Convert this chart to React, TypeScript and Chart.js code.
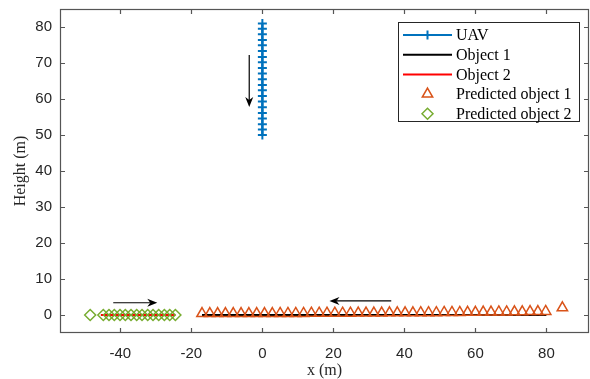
import React, { useEffect, useRef } from 'react';
import { Chart, registerables } from 'chart.js';
import { drawPoint } from 'chart.js/helpers';

Chart.register(...registerables);

// ---------------- data ----------------
const uavX = [0, 0, 0, 0, 0, 0, 0, 0, 0, 0, 0, 0, 0, 0, 0, 0, 0, 0, 0, 0, 0];
const uavY = [81, 79.5, 78, 76.4, 74.9, 73.3, 71.7, 70.2, 68.6, 67.1, 65.5, 63.9, 62.4, 60.8, 59.3, 57.7, 56.1, 54.6, 53, 51.5, 50];

const obj1X = [80, -17];
const obj1Y = [0, 0];

const obj2X = [-45.5, -24.5];
const obj2Y = [0, 0];

const pred1X = [-17, -14.8, -12.6, -10.4, -8.2, -6, -3.8, -1.6, 0.6, 2.8, 5, 7.2, 9.4, 11.6, 13.8, 16, 18.2, 20.4, 22.6, 24.8, 27, 29.2, 31.4, 33.6, 35.8, 38, 40.2, 42.4, 44.6, 46.8, 49, 51.2, 53.4, 55.6, 57.8, 60, 62.2, 64.4, 66.6, 68.8, 71, 73.2, 75.4, 77.6, 79.8, 84.5];
const pred1Y = [0.4, 0.4, 0.4, 0.4, 0.4, 0.4, 0.4, 0.4, 0.4, 0.4, 0.45, 0.45, 0.45, 0.45, 0.5, 0.5, 0.5, 0.5, 0.5, 0.5, 0.55, 0.55, 0.55, 0.55, 0.6, 0.6, 0.6, 0.6, 0.65, 0.65, 0.65, 0.7, 0.7, 0.7, 0.75, 0.75, 0.8, 0.8, 0.85, 0.85, 0.9, 0.9, 0.95, 0.95, 1.0, 2.0];

const pred2X = [-48.5, -44.8, -43.2, -41.7, -40.1, -38.6, -37, -35.4, -33.9, -32.3, -30.8, -29.2, -27.6, -26.1, -24.5];
const pred2Y = [0, 0, 0, 0, 0, 0, 0, 0, 0, 0, 0, 0, 0, 0, 0];

const xTicks = [-40, -20, 0, 20, 40, 60, 80];
const yTicks = [0, 10, 20, 30, 40, 50, 60, 70, 80];

// annotation arrows (data units): start -> end
const arrowX0 = [-3.7, -42, 36.3];
const arrowY0 = [72.2, 3.4, 3.9];
const arrowX1 = [-3.7, -29.6, 18.9];
const arrowY1 = [57.8, 3.4, 3.9];

const seriesLabels = ['UAV', 'Object 1', 'Object 2', 'Predicted object 1', 'Predicted object 2'];

const BLUE = '#0072BD';
const ORANGE = '#D95319';
const GREEN = '#77AC30';
const AXIS = '#262626';

const toPts = (xs: number[], ys: number[]) => xs.map((x, i) => ({ x, y: ys[i] }));
const zeroPad = () => ({ left: 0, right: 0, top: 0, bottom: 0 });

const boxPlugin = {
  id: 'matlabBox',
  afterDatasetsDraw(chart: any) {
    const { ctx, chartArea: a, scales } = chart;
    const xs = scales.x;
    const ys = scales.y;
    ctx.save();
    ctx.strokeStyle = '#555';
    ctx.lineWidth = 1.2;
    ctx.strokeRect(a.left + 0.5, a.top + 0.5, a.right - a.left - 1, a.bottom - a.top - 1);
    const tl = 5;
    ctx.beginPath();
    xTicks.forEach((v) => {
      const px = Math.round(xs.getPixelForValue(v)) + 0.5;
      ctx.moveTo(px, a.bottom);
      ctx.lineTo(px, a.bottom - tl);
      ctx.moveTo(px, a.top);
      ctx.lineTo(px, a.top + tl);
    });
    yTicks.forEach((v) => {
      const py = Math.round(ys.getPixelForValue(v)) + 0.5;
      ctx.moveTo(a.left, py);
      ctx.lineTo(a.left + tl, py);
      ctx.moveTo(a.right, py);
      ctx.lineTo(a.right - tl, py);
    });
    ctx.stroke();

    // arrows
    ctx.strokeStyle = '#000';
    ctx.fillStyle = '#000';
    ctx.lineWidth = 1.2;
    for (let i = 0; i < arrowX0.length; i++) {
      const x0 = xs.getPixelForValue(arrowX0[i]);
      const y0 = ys.getPixelForValue(arrowY0[i]);
      const x1 = xs.getPixelForValue(arrowX1[i]);
      const y1 = ys.getPixelForValue(arrowY1[i]);
      const ang = Math.atan2(y1 - y0, x1 - x0);
      const L = 10;
      const W = 4;
      const back = 7;
      ctx.beginPath();
      ctx.moveTo(x0, y0);
      ctx.lineTo(x1 - Math.cos(ang) * back, y1 - Math.sin(ang) * back);
      ctx.stroke();
      const bx = x1 - Math.cos(ang) * L;
      const by = y1 - Math.sin(ang) * L;
      const nx = -Math.sin(ang);
      const ny = Math.cos(ang);
      ctx.beginPath();
      ctx.moveTo(x1, y1);
      ctx.lineTo(bx + nx * W, by + ny * W);
      ctx.lineTo(x1 - Math.cos(ang) * back, y1 - Math.sin(ang) * back);
      ctx.lineTo(bx - nx * W, by - ny * W);
      ctx.closePath();
      ctx.fill();
    }
    ctx.restore();
  },
  afterDraw(chart: any) {
    const { ctx, chartArea: a } = chart;
    const ds = chart.data.datasets;
    const right = a.right - 10;
    const left = right - 181;
    const top = a.top + 13;
    const rowH = 19.7;
    const h = 99;
    ctx.save();
    ctx.fillStyle = '#fff';
    ctx.fillRect(left, top, right - left, h);
    ctx.strokeStyle = '#262626';
    ctx.lineWidth = 1;
    ctx.strokeRect(Math.round(left) + 0.5, Math.round(top) + 0.5, right - left, h);
    ctx.font = '16px "Liberation Serif"';
    ctx.textBaseline = 'middle';
    ctx.textAlign = 'left';
    seriesLabels.forEach((label, i) => {
      const d = ds.find((q: any) => q.label === label);
      const cy = top + 13 + i * rowH;
      const lx0 = left + 5;
      const lx1 = left + 54;
      const mx = (lx0 + lx1) / 2;
      if (d.showLine !== false) {
        ctx.strokeStyle = d.borderColor;
        ctx.lineWidth = d.borderWidth;
        ctx.beginPath();
        ctx.moveTo(lx0, cy);
        ctx.lineTo(lx1, cy);
        ctx.stroke();
      }
      if (d.pointRadius > 0) {
        ctx.strokeStyle = d.pointBorderColor;
        ctx.fillStyle = 'rgba(0,0,0,0)';
        ctx.lineWidth = d.pointBorderWidth;
        drawPoint(ctx, { pointStyle: d.pointStyle, radius: d.pointRadius, rotation: 0, borderWidth: d.pointBorderWidth }, mx, cy);
      }
      ctx.fillStyle = '#000';
      ctx.fillText(label, left + 58, cy + 1);
    });
    ctx.restore();
  },
};

export default function App() {
  const ref = useRef<HTMLCanvasElement | null>(null);

  useEffect(() => {
    document.body.style.margin = '0';
    const canvas = ref.current;
    if (!canvas) return;
    const tickFont = { family: '"Liberation Sans", Arial, sans-serif', size: 15 };
    const titleFont = { family: '"Liberation Serif", "Times New Roman", serif', size: 16, lineHeight: 1 };
    const chart = new Chart(canvas, {
      type: 'scatter',
      data: {
        datasets: [
          {
            label: 'UAV',
            data: toPts(uavX, uavY),
            showLine: true,
            borderColor: BLUE,
            borderWidth: 2,
            pointStyle: 'cross',
            pointRadius: 4.5,
            pointBorderWidth: 2,
            pointBorderColor: BLUE,
            pointBackgroundColor: BLUE,
            order: 4,
          },
          {
            label: 'Object 1',
            data: toPts(obj1X, obj1Y),
            showLine: true,
            borderColor: '#000000',
            borderWidth: 2,
            pointRadius: 0,
            order: 3,
          },
          {
            label: 'Object 2',
            data: toPts(obj2X, obj2Y),
            showLine: true,
            borderColor: '#FF0000',
            borderWidth: 2,
            pointRadius: 0,
            order: 2,
          },
          {
            label: 'Predicted object 1',
            data: toPts(pred1X, pred1Y),
            showLine: false,
            borderColor: ORANGE,
            pointStyle: 'triangle',
            pointRadius: 6,
            pointBorderWidth: 1.5,
            pointBorderColor: ORANGE,
            pointBackgroundColor: 'rgba(0,0,0,0)',
            order: 1,
          },
          {
            label: 'Predicted object 2',
            data: toPts(pred2X, pred2Y),
            showLine: false,
            borderColor: GREEN,
            pointStyle: 'rectRot',
            pointRadius: 5.5,
            pointBorderWidth: 1.5,
            pointBorderColor: GREEN,
            pointBackgroundColor: 'rgba(0,0,0,0)',
            order: 0,
          },
        ],
      },
      options: {
        animation: false,
        responsive: false,
        maintainAspectRatio: false,
        layout: { autoPadding: false, padding: { top: 9, right: 1, left: 0, bottom: 0 } },
        plugins: {
          legend: { display: false },
          tooltip: { enabled: false },
        },
        elements: { line: { tension: 0 } },
        scales: {
          x: {
            type: 'linear',
            min: -57,
            max: 92,
            grid: { display: false, drawTicks: false },
            border: { display: false },
            afterBuildTicks: (s: any) => {
              s.ticks = xTicks.map((v) => ({ value: v }));
            },
            afterFit: (s: any) => {
              s.height = 46;
              s.paddingLeft = 0;
              s.paddingRight = 0;
              s.getPadding = zeroPad;
            },
            ticks: { font: tickFont, color: AXIS, padding: 12, maxRotation: 0, autoSkip: false },
            title: { display: true, text: 'x (m)', font: titleFont, color: AXIS, padding: { top: 0, bottom: 0 } },
          },
          y: {
            type: 'linear',
            min: -5,
            max: 85,
            grid: { display: false, drawTicks: false },
            border: { display: false },
            afterBuildTicks: (s: any) => {
              s.ticks = yTicks.map((v) => ({ value: v }));
            },
            afterFit: (s: any) => {
              s.width = 60;
              s.paddingTop = 0;
              s.paddingBottom = 0;
              s.getPadding = zeroPad;
            },
            ticks: { font: tickFont, color: AXIS, padding: 8, autoSkip: false },
            title: { display: true, text: 'Height (m)', font: titleFont, color: AXIS, padding: { top: 13, bottom: 0 } },
          },
        },
      },
      plugins: [boxPlugin],
    } as any);
    return () => chart.destroy();
  }, []);

  return (
    <div style={{ position: 'absolute', left: 0, top: 0, width: 590, height: 379, background: '#fff' }}>
      <canvas ref={ref} width={590} height={379} style={{ display: 'block' }} />
    </div>
  );
}
